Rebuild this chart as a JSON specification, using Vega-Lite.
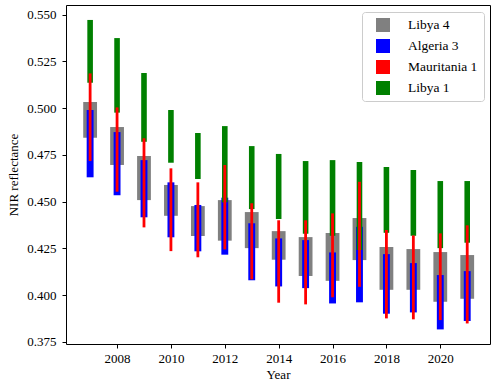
{
  "$schema": "https://vega.github.io/schema/vega-lite/v6.json",
  "width": 424,
  "height": 339,
  "autosize": {"type": "none"},
  "padding": {"left": 66, "top": 5, "right": 7, "bottom": 45},
  "config": {
    "font": "Liberation Serif",
    "view": {"stroke": "#000000", "strokeWidth": 1},
    "axis": {
      "labelFont": "Liberation Serif",
      "labelFontSize": 13,
      "labelColor": "#000000",
      "titleFont": "Liberation Serif",
      "titleFontSize": 13,
      "titleFontWeight": "normal",
      "titleColor": "#000000",
      "tickColor": "#000000",
      "tickSize": 4,
      "domain": false,
      "grid": false
    },
    "legend": {
      "labelFont": "Liberation Serif",
      "labelFontSize": 13.5,
      "labelColor": "#000000"
    }
  },
  "data": {
    "values": [
      {"year": 2007, "site": "Libya 4", "low": 0.4842, "high": 0.5033},
      {"year": 2007, "site": "Algeria 3", "low": 0.4630, "high": 0.4990},
      {"year": 2007, "site": "Mauritania 1", "low": 0.4717, "high": 0.5186},
      {"year": 2007, "site": "Libya 1", "low": 0.5136, "high": 0.5472},
      {"year": 2008, "site": "Libya 4", "low": 0.4696, "high": 0.4899},
      {"year": 2008, "site": "Algeria 3", "low": 0.4534, "high": 0.4872},
      {"year": 2008, "site": "Mauritania 1", "low": 0.4553, "high": 0.5004},
      {"year": 2008, "site": "Libya 1", "low": 0.4976, "high": 0.5375},
      {"year": 2009, "site": "Libya 4", "low": 0.4508, "high": 0.4744},
      {"year": 2009, "site": "Algeria 3", "low": 0.4416, "high": 0.4722},
      {"year": 2009, "site": "Mauritania 1", "low": 0.4362, "high": 0.4839},
      {"year": 2009, "site": "Libya 1", "low": 0.4820, "high": 0.5188},
      {"year": 2010, "site": "Libya 4", "low": 0.4424, "high": 0.4589},
      {"year": 2010, "site": "Algeria 3", "low": 0.4309, "high": 0.4603},
      {"year": 2010, "site": "Mauritania 1", "low": 0.4235, "high": 0.4678},
      {"year": 2010, "site": "Libya 1", "low": 0.4708, "high": 0.4990},
      {"year": 2011, "site": "Libya 4", "low": 0.4316, "high": 0.4476},
      {"year": 2011, "site": "Algeria 3", "low": 0.4234, "high": 0.4482},
      {"year": 2011, "site": "Mauritania 1", "low": 0.4202, "high": 0.4603},
      {"year": 2011, "site": "Libya 1", "low": 0.4621, "high": 0.4867},
      {"year": 2012, "site": "Libya 4", "low": 0.4291, "high": 0.4508},
      {"year": 2012, "site": "Algeria 3", "low": 0.4216, "high": 0.4521},
      {"year": 2012, "site": "Mauritania 1", "low": 0.4244, "high": 0.4696},
      {"year": 2012, "site": "Libya 1", "low": 0.4496, "high": 0.4904},
      {"year": 2013, "site": "Libya 4", "low": 0.4251, "high": 0.4444},
      {"year": 2013, "site": "Algeria 3", "low": 0.4079, "high": 0.4384},
      {"year": 2013, "site": "Mauritania 1", "low": 0.4084, "high": 0.4491},
      {"year": 2013, "site": "Libya 1", "low": 0.4460, "high": 0.4797},
      {"year": 2014, "site": "Libya 4", "low": 0.4189, "high": 0.4342},
      {"year": 2014, "site": "Algeria 3", "low": 0.4046, "high": 0.4303},
      {"year": 2014, "site": "Mauritania 1", "low": 0.3959, "high": 0.4400},
      {"year": 2014, "site": "Libya 1", "low": 0.4407, "high": 0.4755},
      {"year": 2015, "site": "Libya 4", "low": 0.4102, "high": 0.4310},
      {"year": 2015, "site": "Algeria 3", "low": 0.4037, "high": 0.4294},
      {"year": 2015, "site": "Mauritania 1", "low": 0.3950, "high": 0.4400},
      {"year": 2015, "site": "Libya 1", "low": 0.4328, "high": 0.4717},
      {"year": 2016, "site": "Libya 4", "low": 0.4076, "high": 0.4332},
      {"year": 2016, "site": "Algeria 3", "low": 0.3955, "high": 0.4228},
      {"year": 2016, "site": "Mauritania 1", "low": 0.3988, "high": 0.4437},
      {"year": 2016, "site": "Libya 1", "low": 0.4317, "high": 0.4722},
      {"year": 2017, "site": "Libya 4", "low": 0.4187, "high": 0.4412},
      {"year": 2017, "site": "Algeria 3", "low": 0.3961, "high": 0.4365},
      {"year": 2017, "site": "Mauritania 1", "low": 0.4044, "high": 0.4606},
      {"year": 2017, "site": "Libya 1", "low": 0.4241, "high": 0.4712},
      {"year": 2018, "site": "Libya 4", "low": 0.4028, "high": 0.4257},
      {"year": 2018, "site": "Algeria 3", "low": 0.3900, "high": 0.4219},
      {"year": 2018, "site": "Mauritania 1", "low": 0.3875, "high": 0.4348},
      {"year": 2018, "site": "Libya 1", "low": 0.4333, "high": 0.4685},
      {"year": 2019, "site": "Libya 4", "low": 0.4028, "high": 0.4246},
      {"year": 2019, "site": "Algeria 3", "low": 0.3907, "high": 0.4171},
      {"year": 2019, "site": "Mauritania 1", "low": 0.3870, "high": 0.4319},
      {"year": 2019, "site": "Libya 1", "low": 0.4317, "high": 0.4669},
      {"year": 2020, "site": "Libya 4", "low": 0.3964, "high": 0.4230},
      {"year": 2020, "site": "Algeria 3", "low": 0.3816, "high": 0.4107},
      {"year": 2020, "site": "Mauritania 1", "low": 0.3866, "high": 0.4330},
      {"year": 2020, "site": "Libya 1", "low": 0.4251, "high": 0.4610},
      {"year": 2021, "site": "Libya 4", "low": 0.3980, "high": 0.4214},
      {"year": 2021, "site": "Algeria 3", "low": 0.3861, "high": 0.4128},
      {"year": 2021, "site": "Mauritania 1", "low": 0.3848, "high": 0.4373},
      {"year": 2021, "site": "Libya 1", "low": 0.4280, "high": 0.4610}
    ]
  },
  "encoding": {
    "x": {
      "field": "year",
      "type": "quantitative",
      "title": "Year",
      "scale": {"domain": [2006.29, 2021.66], "nice": false, "zero": false},
      "axis": {"values": [2008, 2010, 2012, 2014, 2016, 2018, 2020], "format": "d", "labelPadding": 4, "titlePadding": 3}
    },
    "y": {
      "field": "low",
      "type": "quantitative",
      "title": "NIR reflectance",
      "scale": {"domain": [0.3738, 0.5552], "nice": false, "zero": false},
      "axis": {"values": [0.375, 0.4, 0.425, 0.45, 0.475, 0.5, 0.525, 0.55], "format": ".3f", "labelPadding": 6, "titlePadding": 6}
    },
    "y2": {"field": "high"},
    "color": {
      "field": "site",
      "type": "nominal",
      "scale": {
        "domain": ["Libya 4", "Algeria 3", "Mauritania 1", "Libya 1"],
        "range": ["#808080", "#0000ff", "#ff0000", "#008000"]
      },
      "legend": {
        "title": null,
        "orient": "none",
        "legendX": 296,
        "legendY": 7,
        "symbolType": "square",
        "symbolSize": 196,
        "symbolStrokeWidth": 0,
        "symbolOpacity": 1,
        "symbolOffset": 8,
        "labelOffset": 18,
        "rowPadding": 7,
        "padding": 6,
        "strokeColor": "#cccccc",
        "fillColor": "#ffffff",
        "cornerRadius": 3
      }
    }
  },
  "layer": [
    {"transform": [{"filter": "datum.site === 'Libya 4'"}], "mark": {"type": "bar", "width": 13.8, "opacity": 1}},
    {"transform": [{"filter": "datum.site === 'Algeria 3'"}], "mark": {"type": "bar", "width": 6.9, "opacity": 1}},
    {"transform": [{"filter": "datum.site === 'Libya 1'"}], "mark": {"type": "bar", "width": 5.6, "opacity": 1}},
    {"transform": [{"filter": "datum.site === 'Mauritania 1'"}], "mark": {"type": "bar", "width": 2.8, "opacity": 1}}
  ]
}
